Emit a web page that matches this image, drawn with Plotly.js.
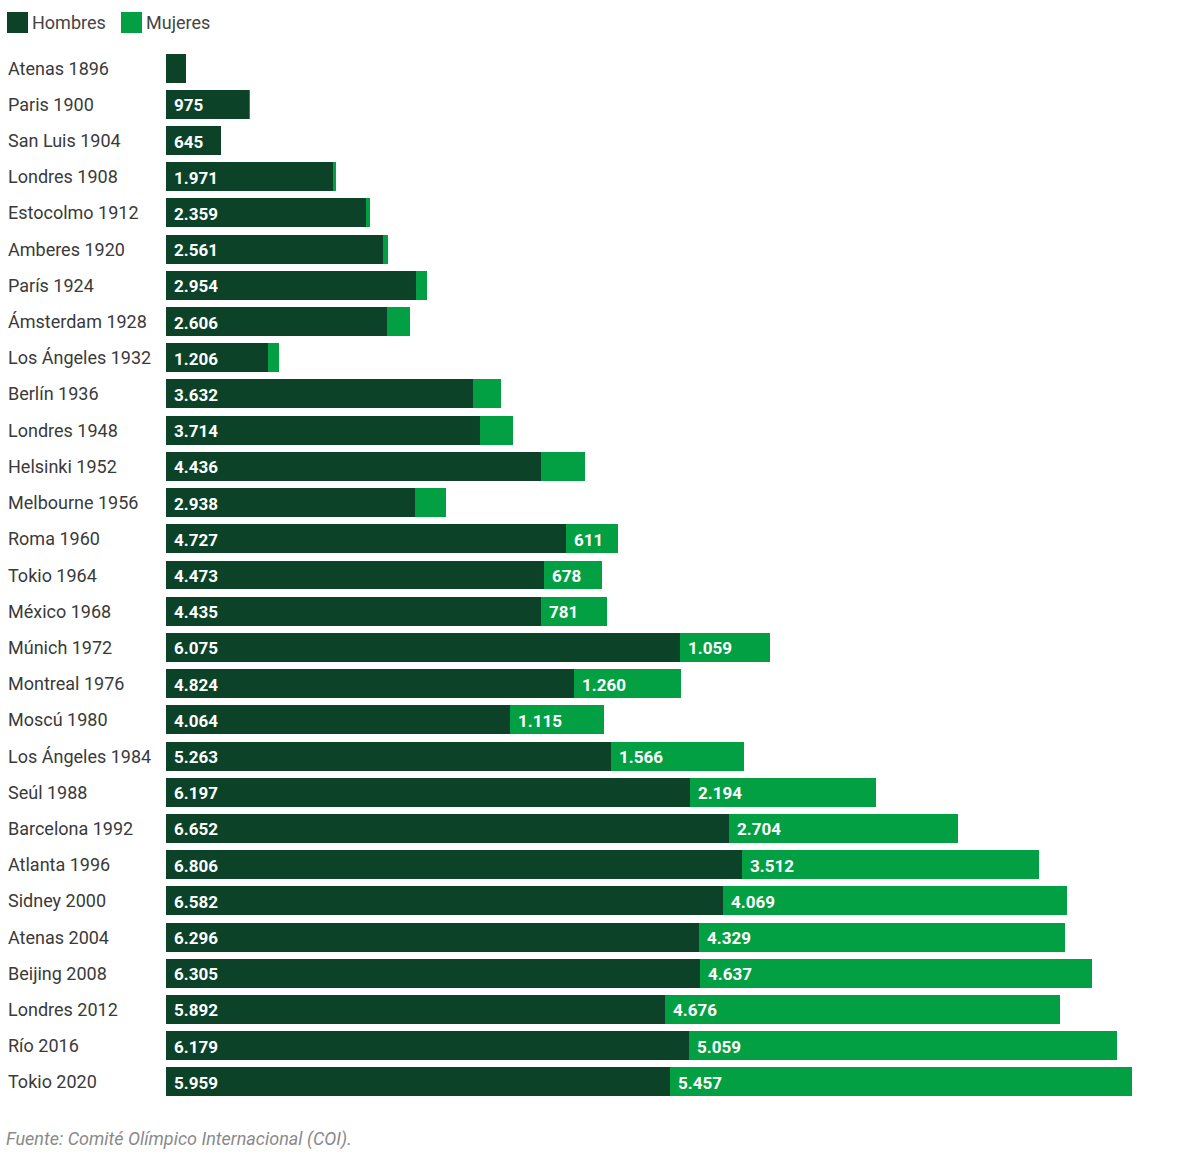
<!DOCTYPE html>
<html>
<head>
<meta charset="utf-8">
<script src="https://cdn.plot.ly/plotly-3.0.1.min.js"></script>
<style>
html,body{margin:0;padding:0;background:#fff;}
#chart{width:1200px;height:1158px;}
</style>
</head>
<body>
<div id="chart"></div>
<script>
const games = ["Atenas 1896","Paris 1900","San Luis 1904","Londres 1908","Estocolmo 1912","Amberes 1920","París 1924","Ámsterdam 1928","Los Ángeles 1932","Berlín 1936","Londres 1948","Helsinki 1952","Melbourne 1956","Roma 1960","Tokio 1964","México 1968","Múnich 1972","Montreal 1976","Moscú 1980","Los Ángeles 1984","Seúl 1988","Barcelona 1992","Atlanta 1996","Sidney 2000","Atenas 2004","Beijing 2008","Londres 2012","Río 2016","Tokio 2020"];
const men = [241,975,645,1971,2359,2561,2954,2606,1206,3632,3714,4436,2938,4727,4473,4435,6075,4824,4064,5263,6197,6652,6806,6582,6296,6305,5892,6179,5959];
const women = [0,22,6,37,48,65,135,277,126,331,390,519,376,611,678,781,1059,1260,1115,1566,2194,2704,3512,4069,4329,4637,4676,5059,5457];
const seriesNames = ["Hombres","Mujeres"];
const colors = {men:"#0b4228", women:"#03a043"};
const source = "Fuente: Comité Olímpico Internacional (COI).";

function fmt(v){ return String(v).replace(/\B(?=(\d{3})+(?!\d))/g, "."); }
const minLabel = 600;

const traceMen = {
  type:"bar", orientation:"h", name:seriesNames[0], y:games, x:men,
  marker:{color:colors.men}, hoverinfo:"y+x", showlegend:false
};
const traceWomen = {
  type:"bar", orientation:"h", name:seriesNames[1], y:games, x:women,
  marker:{color:colors.women}, hoverinfo:"y+x", showlegend:false
};

const L = 166, W = 1034, T = 50, H = 1050;
function py(pix){ return 1 - (pix - T)/H; }
function px(pix){ return (pix - L)/W; }

const annotations = [];
const lblFont = {family:"Roboto, 'Open Sans', sans-serif", size:18, color:"#3a3a3a"};
const barFont = {family:"Roboto, 'Open Sans', sans-serif", size:17, color:"#ffffff", weight:700};
games.forEach((g,i)=>{
  annotations.push({xref:"paper", yref:"y", x:px(6), y:g, text:g, showarrow:false, xanchor:"left", yanchor:"middle", font:lblFont});
  if(men[i] >= minLabel){
    annotations.push({xref:"x", yref:"y", x:0, y:g, text:"<b>"+fmt(men[i])+"</b>", showarrow:false, xanchor:"left", yanchor:"middle", xshift:6, yshift:-1, font:barFont});
  }
  if(women[i] >= minLabel){
    annotations.push({xref:"x", yref:"y", x:men[i], y:g, text:"<b>"+fmt(women[i])+"</b>", showarrow:false, xanchor:"left", yanchor:"middle", xshift:6, yshift:-1, font:barFont});
  }
});
// legend
const legFont = {family:"Roboto, 'Open Sans', sans-serif", size:18, color:"#444"};
annotations.push({xref:"paper", yref:"paper", x:px(30), y:py(22), text:seriesNames[0], showarrow:false, xanchor:"left", yanchor:"middle", font:legFont});
annotations.push({xref:"paper", yref:"paper", x:px(144), y:py(22), text:seriesNames[1], showarrow:false, xanchor:"left", yanchor:"middle", font:legFont});
annotations.push({xref:"paper", yref:"paper", x:px(4), y:py(1139), text:"<i>"+source+"</i>", showarrow:false, xanchor:"left", yanchor:"middle", font:{family:"Roboto, 'Open Sans', sans-serif", size:18, color:"#8a8a8a"}});

const shapes = [
  {type:"rect", xref:"paper", yref:"paper", x0:px(7), x1:px(28), y0:py(12), y1:py(33), fillcolor:colors.men, line:{width:0}},
  {type:"rect", xref:"paper", yref:"paper", x0:px(121), x1:px(142), y0:py(12), y1:py(33), fillcolor:colors.women, line:{width:0}}
];

const layout = {
  width:1200, height:1158,
  margin:{l:L, r:1200-L-W, t:T, b:1158-T-H},
  barmode:"stack", bargap:0.2,
  paper_bgcolor:"#fff", plot_bgcolor:"#fff",
  xaxis:{range:[0,12220], visible:false, fixedrange:true},
  yaxis:{type:"category", range:[games.length-0.5,-0.5], showticklabels:false, showgrid:false, zeroline:false, showline:false, ticks:"", fixedrange:true},
  annotations:annotations, shapes:shapes,
  showlegend:false,
  font:{family:"Roboto, sans-serif"}
};
Plotly.newPlot("chart",[traceMen,traceWomen],layout,{displayModeBar:false, staticPlot:true});
</script>
</body>
</html>
